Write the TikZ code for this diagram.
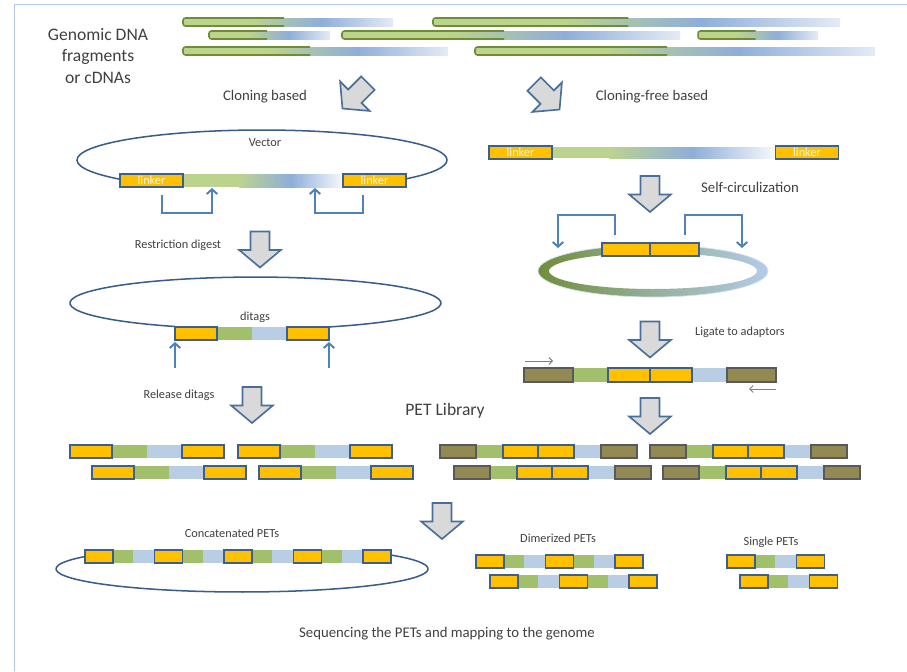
\documentclass[tikz,border=0pt]{standalone}
\usepackage{fontspec}
\setmainfont{Carlito}
\usetikzlibrary{shapes.arrows,arrows.meta}

\definecolor{textgrey}{HTML}{404040}
\definecolor{framecol}{HTML}{B4C7E7}
\definecolor{tagorange}{HTML}{FFC000}
\definecolor{tagedge}{HTML}{3C5F8C}
\definecolor{adolive}{HTML}{938953}
\definecolor{adedge}{HTML}{595959}
\definecolor{seggreen}{HTML}{A2C06B}
\definecolor{segblue}{HTML}{B9CDE5}
\definecolor{fraggreen}{HTML}{BCD38E}
\definecolor{fragedgecol}{HTML}{6E8E35}
\definecolor{fragblue}{HTML}{8EAEDA}
\definecolor{fragpale}{HTML}{E4EBF5}
\definecolor{ringgreen}{HTML}{6F8E3A}
\definecolor{ringblue}{HTML}{B4CBE8}
\definecolor{vecedge}{HTML}{385D8A}
\definecolor{bracketblue}{HTML}{4F81BD}
\definecolor{arrowgray}{HTML}{D9D9D9}
\definecolor{arrowedge}{HTML}{4A6E9A}

\tikzset{
  txt/.style={text=textgrey, font=\fontsize{10.5}{12}\selectfont, inner sep=0pt},
  txtmid/.style={txt, font=\fontsize{12.6}{15}\selectfont},
  txtbig/.style={txt, font=\fontsize{15}{18}\selectfont, align=center},
  blockarrow/.style={single arrow, draw=arrowedge, fill=arrowgray, line width=1.4pt,
    inner xsep=0.2cm, inner ysep=0.26cm, single arrow head extend=0.34cm,
    single arrow head indent=0pt, single arrow tip angle=100, minimum height=1.08cm},
  tagnode/.style={draw=tagedge, fill=tagorange, line width=1.5pt, inner sep=0pt, minimum height=0.39cm},
  linkerbox/.style={tagnode, minimum width=1.89cm, minimum height=0.4cm, text=white!85!tagorange,
    font=\fontsize{10.5}{12}\selectfont},
  tagbox/.style={draw=tagedge, fill=tagorange, line width=1.5pt},
  adbox/.style={draw=adedge, fill=adolive, line width=1.5pt},
  vec/.style={draw=vecedge, line width=1.3pt},
  bracket/.style={draw=bracketblue, line width=1.7pt, -{Straight Barb[length=4pt,width=9pt]}},
  primer/.style={draw=gray, line width=0.8pt, -{Straight Barb[length=3pt,width=6pt]}},
  fragedge/.style={draw=fragedgecol, line width=1.3pt, rounded corners=2pt},
}

\newcommand{\fragbar}[3]{%
  \pgfmathsetmacro{\xg}{#1+0.32*(#2-#1)}
  \pgfmathsetmacro{\xe}{#1+0.48*(#2-#1)}
  \fill[fraggreen, rounded corners=2pt] (#1,#3-4) rectangle (\xg+2,#3+4);
  \shade[left color=fraggreen, right color=fragpale, middle color=fragblue] (\xg,#3-4) rectangle (#2,#3+4);
  \draw[fragedge] (\xe,#3-4) -- (#1,#3-4) -- (#1,#3+4) -- (\xe,#3+4);}

\newcommand{\ditag}[2]{%
  \fill[seggreen] (#1+40,#2) rectangle (#1+78,#2+13);
  \fill[segblue] (#1+77,#2) rectangle (#1+114,#2+13);
  \draw[tagbox] (#1,#2) rectangle (#1+42,#2+13);
  \draw[tagbox] (#1+112,#2) rectangle (#1+154,#2+13);}

\newcommand{\adtag}[2]{%
  \fill[seggreen] (#1+34,#2) rectangle (#1+65,#2+13);
  \fill[segblue] (#1+132,#2) rectangle (#1+163,#2+13);
  \draw[adbox] (#1,#2) rectangle (#1+36,#2+13);
  \draw[tagbox] (#1+63,#2) rectangle (#1+98,#2+13);
  \draw[tagbox] (#1+98,#2) rectangle (#1+134,#2+13);
  \draw[adbox] (#1+161,#2) rectangle (#1+197,#2+13);}

\newcommand{\petrow}[3]{%
  \foreach \k in {1,...,#3}{
    \fill[seggreen] ({#1+69.5*(\k-1)+26},#2) rectangle ({#1+69.5*(\k-1)+49},#2+13);
    \fill[segblue] ({#1+69.5*(\k-1)+48},#2) rectangle ({#1+69.5*\k+2},#2+13);}
  \foreach \k in {0,...,#3}{
    \draw[tagbox] ({#1+69.5*\k},#2) rectangle ({#1+69.5*\k+28},#2+13);}}

\begin{document}
\begin{tikzpicture}[x=0.03cm, y=-0.03cm]
    \useasboundingbox (0,0) rectangle (907,671);
    \draw[framecol, line width=0.8pt] (14,671) -- (14,4) -- (907,4);

    \foreach \xa/\xb/\yy in {183/393/22, 433/840/22, 209/330/35, 342/680/35, 698/818/35, 183/448/51, 475/875/51}
      {\fragbar{\xa}{\xb}{\yy}}

    \node[txtbig] (genomic) at (98,56) {Genomic DNA\\fragments\\or cDNAs};
    \node[txtmid] (cloning) at (265,97) {Cloning based};
    \node[txtmid] (cloningfree) at (652,97) {Cloning-free based};
    \node[blockarrow, rotate=-135] (arrowL) at (358,93) {};
    \node[blockarrow, rotate=-45] (arrowR) at (544,94) {};

    \draw[vec] (120.3,179.3) arc[start angle=140, end angle=400, x radius=185, y radius=30];
    \fill[fraggreen] (183,174) rectangle (240,187);
    \shade[left color=fraggreen, right color=white!70!fragpale, middle color=fragblue] (239,174) rectangle (343,187);
    \node[linkerbox] (lkA) at (151.5,180.5) {linker};
    \node[linkerbox] (lkB) at (374.5,180.5) {linker};
    \node[txt] (vector) at (265,143) {Vector};

    \coordinate (brA) at (162,195);
    \coordinate (brAtip) at (212,188);
    \coordinate (brB) at (363,195);
    \coordinate (brBtip) at (315,188);
    \draw[bracket] (brA) -- ++(0,18) -| (brAtip);
    \draw[bracket] (brB) -- ++(0,18) -| (brBtip);

    \node[txt] (digest) at (178,245) {Restriction digest};
    \node[blockarrow, rotate=-90] (arrowdigest) at (260,245.5) {};

    \draw[vec] (175,326.5) arc[start angle=115.7, end angle=426.7, x radius=185.5, y radius=26];
    \ditag{175}{327}
    \node[txt] (ditags) at (255,317) {ditags};
    \coordinate (cutA) at (175,368);
    \coordinate (cutAtip) at (175,342);
    \coordinate (cutB) at (329,368);
    \coordinate (cutBtip) at (329,342);
    \draw[bracket] (cutA) -- (cutAtip);
    \draw[bracket] (cutB) -- (cutBtip);

    \node[txt] (release) at (179,395) {Release ditags};
    \node[blockarrow, rotate=-90] (arrowrelease) at (252,401) {};

    \fill[fraggreen] (552,147) rectangle (610,158);
    \shade[left color=fraggreen, right color=white!70!fragpale, middle color=fragblue] (609,147) rectangle (776,158);
    \node[linkerbox] (lkC) at (520.5,152.5) {linker};
    \node[linkerbox] (lkD) at (807,152.5) {linker};

    \node[blockarrow, rotate=-90] (arrowcirc) at (650,190) {};
    \node[txtmid] (selfcirc) at (750,187) {Self-circulization};

    \shade[left color=ringgreen, right color=ringblue, middle color=ringgreen!45!ringblue, even odd rule]
      (653,271) ellipse [x radius=115, y radius=26] (653,271) ellipse [x radius=104, y radius=18];
    \draw[ringblue!60, line width=0.6pt] (653,271) ellipse [x radius=115, y radius=26];
    \node[tagnode, minimum width=1.44cm] (jA) at (626,249.5) {};
    \node[tagnode, minimum width=1.47cm] (jB) at (674.5,249.5) {};

    \coordinate (rbA) at (615,235);
    \coordinate (rbAtip) at (558,248);
    \coordinate (rbB) at (685,235);
    \coordinate (rbBtip) at (742,248);
    \draw[bracket] (rbA) -- ++(0,-20) -| (rbAtip);
    \draw[bracket] (rbB) -- ++(0,-20) -| (rbBtip);

    \node[blockarrow, rotate=-90] (arrowligate) at (650,335.5) {};
    \node[txt] (ligate) at (740,332) {Ligate to adaptors};

    \fill[seggreen] (571,368) rectangle (610,382);
    \fill[segblue] (690,368) rectangle (729,382);
    \draw[adbox] (524,368) rectangle (573,382);
    \draw[tagbox] (608,368) rectangle (650,382);
    \draw[tagbox] (650,368) rectangle (692,382);
    \draw[adbox] (727,368) rectangle (776,382);
    \coordinate (fwA) at (525,361);
    \coordinate (fwB) at (553,361);
    \coordinate (rvA) at (776,389);
    \coordinate (rvB) at (749,389);
    \draw[primer] (fwA) -- (fwB);
    \draw[primer] (rvA) -- (rvB);

    \node[blockarrow, rotate=-90] (arrowlib) at (650,412) {};
    \node[txtbig] (petlib) at (445,411) {PET Library};

    \ditag{70}{445}
    \ditag{238}{445}
    \ditag{92}{466}
    \ditag{259}{466}
    \adtag{440}{445}
    \adtag{650}{445}
    \adtag{454}{466}
    \adtag{663}{466}

    \node[blockarrow, rotate=-90] (arrowseq) at (442,517) {};

    \node[txt] (concat) at (232,533) {Concatenated PETs};
    \draw[vec] (85,556.5) arc[start angle=212.4, end angle=-36.3, x radius=186, y radius=23.1];
    \petrow{85}{550}{4}

    \node[txt] (dimer) at (558,538) {Dimerized PETs};
    \petrow{476}{555}{2}
    \petrow{490}{575}{2}

    \node[txt] (single) at (771,542) {Single PETs};
    \petrow{727}{555}{1}
    \petrow{740}{575}{1}

    \node[txtmid] (sequencing) at (447,634) {Sequencing the PETs and mapping to the genome};
\end{tikzpicture}
\end{document}
